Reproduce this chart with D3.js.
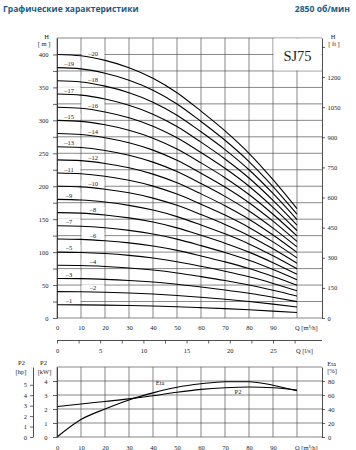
<!DOCTYPE html>
<html><head><meta charset="utf-8">
<script src="https://cdn.jsdelivr.net/npm/d3@7"></script>
<style>
html,body{margin:0;padding:0;background:#fff;}
svg{display:block;}
.tk text{font-family:"Liberation Serif",serif;font-size:6.5px;fill:#222;}
</style></head>
<body>
<svg id="c" width="356" height="450"></svg>
<script>
// ---------- data ----------
const flowQ = [0,10,20,30,40,50,60,70,80,90,100];           // m3/h
const stageNumbers = d3.range(1,21);
const stageHeads = [                                          // H [m] per stage count
  [20,19.9,19.6,19,18.2,17.1,15.7,14.2,12.5,10.5,8.3],
  [40,39.8,39.1,38,36.4,34.2,31.4,28.4,25,21,16.6],
  [60,59.7,58.7,57,54.6,51.3,47.1,42.6,37.5,31.5,24.9],
  [80,79.6,78.2,76,72.8,68.4,62.8,56.8,50,42,33.2],
  [100,99.5,97.8,95,91,85.5,78.5,71,62.5,52.5,41.5],
  [120,119.4,117.3,114,109.2,102.6,94.2,85.2,75,63,49.8],
  [140,139.3,136.9,133,127.4,119.7,109.9,99.4,87.5,73.5,58.1],
  [160,159.2,156.4,152,145.6,136.8,125.6,113.6,100,84,66.4],
  [180,179.1,176,171,163.8,153.9,141.3,127.8,112.5,94.5,74.7],
  [200,199,195.5,190,182,171,157,142,125,105,83],
  [220,218.9,215.1,209,200.2,188.1,172.7,156.2,137.5,115.5,91.3],
  [240,238.8,234.6,228,218.4,205.2,188.4,170.4,150,126,99.6],
  [260,258.7,254.2,247,236.6,222.3,204.1,184.6,162.5,136.5,107.9],
  [280,278.6,273.7,266,254.8,239.4,219.8,198.8,175,147,116.2],
  [300,298.5,293.3,285,273,256.5,235.5,213,187.5,157.5,124.5],
  [320,318.4,312.8,304,291.2,273.6,251.2,227.2,200,168,132.8],
  [340,338.3,332.4,323,309.4,290.7,266.9,241.4,212.5,178.5,141.1],
  [360,358.2,351.9,342,327.6,307.8,282.6,255.6,225,189,149.4],
  [380,378.1,371.5,361,345.8,324.9,298.3,269.8,237.5,199.5,157.7],
  [400,398,391,380,364,342,314,284,250,210,166]
];
const powerP2 = [2.17,2.36,2.54,2.72,2.95,3.2,3.4,3.52,3.57,3.52,3.35];   // kW
const efficiency = [0,25,40,53,63,71,76,79,79,74,66];                 // %
const qTicks = [0,10,20,30,40,50,60,70,80,90];
const hTicks = d3.range(0,401,25);
const ftTicks = d3.range(0,1351,150);
const lsTicks = d3.range(0,27.6,2.5);
const kwTicks = [0,1,2,3,4];
const hpTicks = [0,1,2,3,4,5];
const etaTicks = [0,20,40,60,80];
const titleText = "Графические характеристики";
const speedText = "2850 об/мин";
const modelText = "SJ75";

// ---------- layout ----------
const svg = d3.select("#c");
const X0 = 57, X100 = 297, XR = 322;
const x = d3.scaleLinear().domain([0,100]).range([X0,X100]);
const yH = d3.scaleLinear().domain([0,425]).range([318,38]);
const yFt = d3.scaleLinear().domain([0,425/0.3048]).range([318,38]);
const xLs = d3.scaleLinear().domain([0,100/3.6]).range([X0,X100]);
const yKW = d3.scaleLinear().domain([0,5]).range([437,367]);
const yHp = d3.scaleLinear().domain([0,5/0.7457]).range([437,367]);
const yEta = d3.scaleLinear().domain([0,100]).range([437,367]);
const gridC = "#555", gridW = 0.7;
const serif = '"Liberation Serif",serif';
const intFmt = d3.format("d");

function styleAxis(g){
  g.attr("class","tk").attr("font-family",serif).attr("font-size",6.5);
  g.selectAll("line").attr("stroke","#222").attr("stroke-width",0.7);
  g.selectAll("path.domain").attr("stroke","#222").attr("stroke-width",0.8);
  g.selectAll("text").attr("font-family",serif).attr("font-size","6.5px").attr("fill","#222");
}
function txt(t,xx,yy,anchor,size){
  return svg.append("text").attr("x",xx).attr("y",yy).attr("text-anchor",anchor||"start")
    .attr("font-family",serif).attr("font-size",(size||6.5)+"px").attr("fill","#222").text(t);
}

// titles
svg.append("text").attr("x",3).attr("y",11.5).attr("font-family",'"Open Sans",sans-serif')
  .attr("font-weight","bold").attr("font-size","8.5px").attr("fill","#1a5b85").text(titleText);
svg.append("text").attr("x",350).attr("y",11.5).attr("text-anchor","end").attr("font-family",'"Open Sans",sans-serif')
  .attr("font-weight","bold").attr("font-size","8.6px").attr("fill","#1a5b85").text(speedText);

// ---------- top chart grid ----------
const gTop = svg.append("g");
gTop.selectAll(".hg").data(d3.range(0,426,25)).join("line")
  .attr("x1",X0).attr("x2",XR).attr("y1",d=>yH(d)).attr("y2",d=>yH(d))
  .attr("stroke",gridC).attr("stroke-width",gridW);
gTop.selectAll(".vg").data(flowQ).join("line")
  .attr("x1",d=>x(d)).attr("x2",d=>x(d)).attr("y1",yH(0)).attr("y2",yH(425))
  .attr("stroke",gridC).attr("stroke-width",gridW);

// model box
gTop.append("rect").attr("x",x(90)+0.5).attr("y",yH(425)+0.5)
  .attr("width",XR-0.5-(x(90)+0.5)).attr("height",yH(375)-0.5-(yH(425)+0.5)).attr("fill","#fff");
txt(modelText,(x(90)+XR)/2,60.5,"middle",14.5);

// stage label boxes
function headAt(row,q){
  const i = d3.bisectRight(flowQ,q)-1;
  const t = (q-flowQ[i])/(flowQ[i+1]-flowQ[i]);
  return row[i]+(row[i+1]-row[i])*t;
}
const labelInfo = stageNumbers.map((n,i)=>{
  const col = n%2===1 ? 0 : 1;
  const qc = col*10+5;
  const cy = yH(headAt(stageHeads[i],qc)) - 4;
  return {n, col, qc, cy};
});
gTop.selectAll(".lb").data(labelInfo).join("rect")
  .attr("x",d=>x(d.col*10)+0.6).attr("width",d=>x(d.col*10+10)-x(d.col*10)-1.2)
  .attr("y",d=>d.cy-3.4).attr("height",6.4).attr("fill","#fff");

// curves
const line = d3.line().x((d,i)=>x(flowQ[i])).y(d=>yH(d)).curve(d3.curveMonotoneX);
gTop.selectAll(".cv").data(stageHeads).join("path")
  .attr("d",line).attr("fill","none").attr("stroke","#000").attr("stroke-width",1.1);
gTop.selectAll(".lt").data(labelInfo).join("text")
  .attr("x",d=>x(d.qc)).attr("y",d=>d.cy+2.2).attr("text-anchor","middle")
  .attr("font-family",serif).attr("font-size","6.5px").attr("fill","#222").text(d=>"–"+d.n);

// axes top
svg.append("g").attr("transform",`translate(${X0},0)`)
  .call(d3.axisLeft(yH).tickValues(hTicks).tickSize(4).tickSizeOuter(0).tickPadding(4.5)
    .tickFormat(d=>d%50===0?intFmt(d):"")).call(styleAxis);
svg.append("g").attr("transform",`translate(${XR},0)`)
  .call(d3.axisRight(yFt).tickValues(ftTicks).tickSize(3).tickSizeOuter(0).tickPadding(2.5)
    .tickFormat(d=>d===1350?"":intFmt(d))).call(styleAxis);
svg.append("g").attr("transform",`translate(0,${yH(0)})`)
  .call(d3.axisBottom(x).tickValues(qTicks).tickSize(0).tickPadding(7).tickFormat(intFmt)).call(styleAxis)
  .call(g=>g.select(".domain").remove());
txt("H",46.5,38.5,"middle");
txt("[ m ]",44,45.5,"middle");
txt("H",333,38.5,"middle");
txt("[ ft ]",334,45.5,"middle");
txt("Q  [m³/h]",295,329.5,"start");

// ---------- middle l/s axis ----------
const YM = 340.5;
svg.append("line").attr("x1",X0).attr("x2",XR).attr("y1",YM).attr("y2",YM)
  .attr("stroke","#222").attr("stroke-width",0.8);
svg.append("g").attr("transform",`translate(0,${YM})`)
  .call(d3.axisBottom(xLs).tickValues(lsTicks).tickSize(3).tickPadding(4.9)
    .tickFormat(d=>d%5===0?intFmt(d):"")).call(styleAxis)
  .call(g=>g.select(".domain").remove());
txt("Q  [l/s]",296,353,"start");

// ---------- bottom chart ----------
const gBot = svg.append("g");
gBot.selectAll(".hg").data([0,1,2,3,4,5]).join("line")
  .attr("x1",X0).attr("x2",XR).attr("y1",d=>yKW(d)).attr("y2",d=>yKW(d))
  .attr("stroke",gridC).attr("stroke-width",gridW);
gBot.selectAll(".vg").data(flowQ).join("line")
  .attr("x1",d=>x(d)).attr("x2",d=>x(d)).attr("y1",yKW(0)).attr("y2",yKW(5))
  .attr("stroke",gridC).attr("stroke-width",gridW);

const lineP = d3.line().x((d,i)=>x(flowQ[i])).y(d=>yKW(d)).curve(d3.curveMonotoneX);
const lineE = d3.line().x((d,i)=>x(flowQ[i])).y(d=>yEta(d)).curve(d3.curveMonotoneX);
gBot.append("path").attr("d",lineP(powerP2)).attr("fill","none").attr("stroke","#000").attr("stroke-width",1.1);
gBot.append("path").attr("d",lineE(efficiency)).attr("fill","none").attr("stroke","#000").attr("stroke-width",1.1);
txt("Eta",160,385,"middle");
txt("P2",238,394,"middle");

svg.append("g").attr("transform",`translate(${X0},0)`)
  .call(d3.axisLeft(yKW).tickValues(kwTicks).tickSize(4).tickSizeOuter(0).tickPadding(5.5).tickFormat(intFmt)).call(styleAxis);
svg.append("g").attr("transform",`translate(33,0)`)
  .call(d3.axisLeft(yHp).tickValues(hpTicks).tickSize(3).tickSizeOuter(0).tickPadding(3).tickFormat(intFmt)).call(styleAxis);
svg.append("g").attr("transform",`translate(${XR},0)`)
  .call(d3.axisRight(yEta).tickValues(etaTicks).tickSize(3).tickSizeOuter(0).tickPadding(3).tickFormat(intFmt)).call(styleAxis);
svg.append("g").attr("transform",`translate(0,${yKW(0)})`)
  .call(d3.axisBottom(x).tickValues(qTicks).tickSize(0).tickPadding(8.2).tickFormat(intFmt)).call(styleAxis)
  .call(g=>g.select(".domain").remove());
txt("P2",21.5,365,"middle");
txt("[hp]",21,373.5,"middle");
txt("P2",43.5,365,"middle");
txt("[kW]",44.5,373.5,"middle");
txt("Eta",331.5,366,"middle");
txt("[%]",332,372.5,"middle");
txt("Q  [m³/h]",295,449.8,"start");
</script>
</body></html>
